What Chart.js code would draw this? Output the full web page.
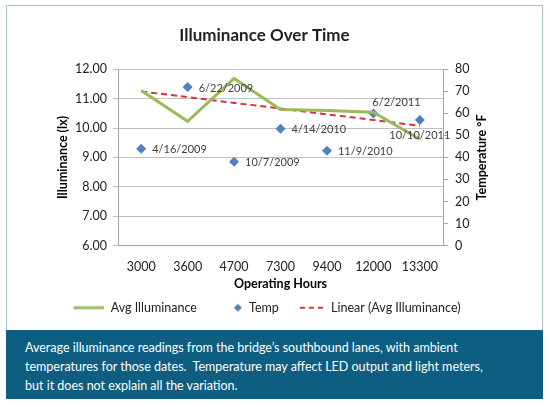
<!DOCTYPE html>
<html lang="en">
<head>
    <meta charset="UTF-8">
    <title>Illuminance Over Time</title>
    <script src="https://cdn.jsdelivr.net/npm/chart.js"></script>
    <style>
        body {
            margin: 0;
            background: #fff;
            font-family: Lato, sans-serif;
        }
        .frame {
            position: absolute;
            left: 6px;
            top: 5px;
            width: 535px;
            height: 393px;
            border: 1px solid #a8c6d0;
            border-bottom: none;
        }
        .chart-box {
            position: relative;
            width: 535px;
            height: 324px;
        }
        .caption {
            position: absolute;
            left: -1px;
            top: 324px;
            width: 537px;
            height: 69px;
            background: #0d5e80;
            color: #fff;
            font-size: 12.5px;
            line-height: 19px;
            padding: 8px 0 0 19px;
            box-sizing: border-box;
        }
    </style>
</head>
<body>
<div class="frame">
    <div class="chart-box">
        <canvas id="chart"></canvas>
    </div>
    <div class="caption">
        Average illuminance readings from the bridge’s southbound lanes, with ambient<br>
        temperatures for those dates.&nbsp; Temperature may affect LED output and light meters,<br>
        but it does not explain all the variation.
    </div>
</div>

<script>
    // valores
    const hours = ['3000', '3600', '4700', '7300', '9400', '12000', '13300'];
    const avgIlluminance = [11.28, 10.23, 11.69, 10.63, 10.60, 10.54, 9.62];
    const temps = [44, 72, 38, 53, 43, 60, 57];
    const dates = ['4/16/2009', '6/22/2009', '10/7/2009', '4/14/2010', '11/9/2010', '6/2/2011', '10/10/2011'];
    // linha de tendência: só os extremos
    const trend = [11.25, null, null, null, null, null, 10.08];
    const luxTicks = [6, 7, 8, 9, 10, 11, 12];
    const tempTicks = [0, 10, 20, 30, 40, 50, 60, 70, 80];

    // onde fica cada rótulo de data em relação ao ponto
    const labelPlacement = ['right', 'right', 'right', 'right', 'right', 'above', 'below'];

    const green = '#9bbb59';
    const blue = '#4f81bd';
    const red = '#d8323a';
    const font = 'Lato';

    // símbolos da legenda, encostados no lado direito de uma caixa de 36px
    function legendSymbol(draw) {
        const c = document.createElement('canvas');
        c.width = 36;
        c.height = 12;
        draw(c.getContext('2d'));
        return c;
    }
    const greenSym = legendSymbol(g => {
        g.strokeStyle = green;
        g.lineWidth = 3;
        g.beginPath();
        g.moveTo(5, 6);
        g.lineTo(36, 6);
        g.stroke();
    });
    const diamondSym = legendSymbol(g => {
        g.fillStyle = blue;
        g.beginPath();
        g.moveTo(31, 2);
        g.lineTo(35, 6);
        g.lineTo(31, 10);
        g.lineTo(27, 6);
        g.closePath();
        g.fill();
    });
    const dashSym = legendSymbol(g => {
        g.strokeStyle = red;
        g.lineWidth = 2;
        g.setLineDash([5, 4]);
        g.beginPath();
        g.moveTo(11, 6);
        g.lineTo(36, 6);
        g.stroke();
    });

    const dateLabels = {
        id: 'dateLabels',
        afterDatasetsDraw(chart) {
            const meta = chart.getDatasetMeta(1);
            const ctx = chart.ctx;
            ctx.save();
            ctx.font = '11px ' + font;
            ctx.fillStyle = '#404040';
            ctx.textBaseline = 'middle';
            meta.data.forEach((pt, i) => {
                const place = labelPlacement[i];
                if (place === 'right') {
                    ctx.textAlign = 'left';
                    ctx.fillText(dates[i], pt.x + 11, pt.y + 1);
                } else if (place === 'above') {
                    ctx.textAlign = 'left';
                    ctx.fillText(dates[i], pt.x - 1, pt.y - 11);
                } else {
                    ctx.textAlign = 'center';
                    ctx.fillText(dates[i], pt.x, pt.y + 15);
                }
            });
            ctx.restore();
        }
    };

    // títulos dos eixos verticais, lidos de baixo para cima como no original
    const axisTitles = {
        id: 'axisTitles',
        afterDraw(chart) {
            const c = chart.ctx;
            const y = chart.scales.y;
            const y1 = chart.scales.y1;
            const draw = (text, x, mid) => {
                c.save();
                c.translate(x, mid);
                c.rotate(-Math.PI / 2);
                c.font = 'bold 12.5px ' + font;
                c.fillStyle = '#000';
                c.textAlign = 'center';
                c.textBaseline = 'middle';
                c.fillText(text, 0, 0);
                c.restore();
            };
            draw('Illuminance (lx)', y.right - 55, (y.top + y.bottom) / 2);
            draw('Temperature °F', y1.left + 39, (y1.top + y1.bottom) / 2);
        }
    };

    const ctx = document.getElementById('chart').getContext('2d');
    new Chart(ctx, {
        type: 'line',
        data: {
            labels: hours,
            datasets: [{
                label: 'Avg Illuminance',
                data: avgIlluminance,
                borderColor: green,
                backgroundColor: green,
                borderWidth: 3,
                pointRadius: 0,
                tension: 0,
                yAxisID: 'y'
            }, {
                label: 'Temp',
                data: temps,
                showLine: false,
                pointStyle: 'rectRot',
                pointRadius: 5,
                pointHoverRadius: 5,
                borderColor: blue,
                backgroundColor: blue,
                borderWidth: 0,
                yAxisID: 'y1'
            }, {
                label: 'Linear (Avg Illuminance)',
                data: trend,
                spanGaps: true,
                borderColor: red,
                backgroundColor: red,
                borderWidth: 2,
                borderDash: [6, 4],
                pointRadius: 0,
                yAxisID: 'y'
            }]
        },
        options: {
            responsive: true,
            maintainAspectRatio: false,
            animation: false,
            layout: { padding: { left: 0, right: 20, top: 0, bottom: 6 } },
            plugins: {
                title: {
                    display: true,
                    text: 'Illuminance Over Time',
                    color: '#222',
                    font: { family: font, size: 17, weight: 'bold' },
                    padding: { top: 19, bottom: 24 }
                },
                legend: {
                    position: 'bottom',
                    labels: {
                        usePointStyle: true,
                        pointStyleWidth: 36,
                        padding: 10,
                        color: '#222',
                        font: { family: font, size: 12.5 },
                        generateLabels(chart) {
                            const items = Chart.defaults.plugins.legend.labels.generateLabels(chart);
                            items[0].pointStyle = greenSym;
                            items[1].pointStyle = diamondSym;
                            items[2].pointStyle = dashSym;
                            return items;
                        }
                    }
                },
                tooltip: { enabled: false }
            },
            scales: {
                x: {
                    offset: true,
                    grid: { display: false, drawTicks: false, offset: true },
                    border: { display: true, color: '#a6a6a6' },
                    ticks: { color: '#222', padding: 14, font: { family: font, size: 12.5 } },
                    title: {
                        display: true,
                        text: 'Operating Hours',
                        color: '#000',
                        font: { family: font, size: 12.5, weight: 'bold' },
                        padding: { top: 3, bottom: 0 }
                    },
                    afterFit(scale) { scale.height = 46; }
                },
                y: {
                    position: 'left',
                    min: 6,
                    max: 12,
                    afterBuildTicks(scale) {
                        scale.ticks = luxTicks.map(v => ({ value: v }));
                    },
                    grid: { color: '#c0c0c0', tickLength: 5 },
                    border: { color: '#a6a6a6' },
                    ticks: {
                        autoSkip: false,
                        color: '#222',
                        padding: 6,
                        font: { family: font, size: 12.5 },
                        callback: v => v.toFixed(2)
                    },
                    afterFit(scale) { scale.width = 111; }
                },
                y1: {
                    position: 'right',
                    min: 0,
                    max: 80,
                    afterBuildTicks(scale) {
                        scale.ticks = tempTicks.map(v => ({ value: v }));
                    },
                    grid: { drawOnChartArea: false, color: '#a6a6a6', tickLength: 5 },
                    border: { color: '#a6a6a6' },
                    ticks: { autoSkip: false, color: '#222', padding: 7, font: { family: font, size: 12.5 } },
                    afterFit(scale) { scale.width = 79; }
                }
            }
        },
        plugins: [dateLabels, axisTitles]
    });
</script>
</body>
</html>
